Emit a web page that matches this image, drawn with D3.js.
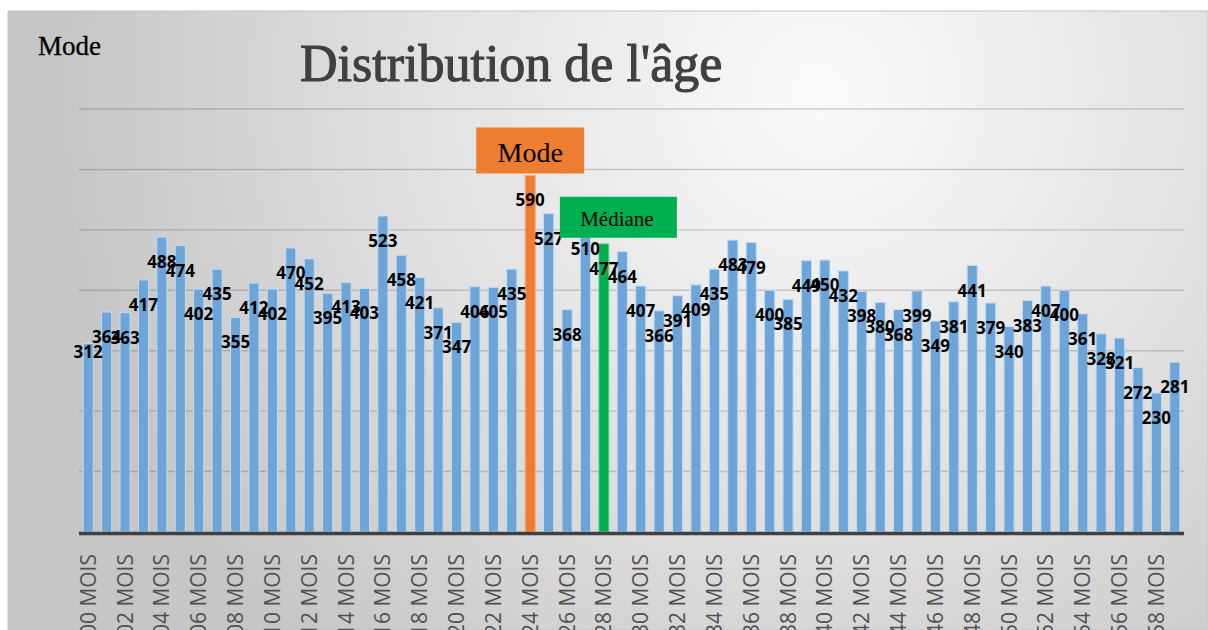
<!DOCTYPE html>
<html>
<head>
<meta charset="utf-8">
<script src="https://cdn.jsdelivr.net/npm/d3@7"></script>
<style>
  html, body { margin: 0; padding: 0; background: #fff; }
  svg { display: block; }
</style>
</head>
<body>
<svg id="chart"></svg>
<script>
// ages in months, 00..59
const months = d3.range(60).map(i => String(i).padStart(2, "0") + " MOIS")
const counts = [312, 364, 363, 417, 488, 474, 402, 435, 355, 412,
                402, 470, 452, 395, 413, 403, 523, 458, 421, 371,
                347, 406, 405, 435, 590, 527, 368, 510, 477, 464,
                407, 366, 391, 409, 435, 483, 479, 400, 385, 449,
                450, 432, 398, 380, 368, 399, 349, 381, 441, 379,
                340, 383, 407, 400, 361, 328, 321, 272, 230, 281]
const tickLabels = months.filter((m, i) => i % 2 == 0)
const gridValues = [100, 200, 300, 400, 500, 600, 700]
const modeIndex = 24
const medianIndex = 28

const W = 1208, H = 630
const margin = { top: 109, right: 24, bottom: 98, left: 79 }

const svg = d3.select("#chart")
  .attr("width", W)
  .attr("height", H)

// slide-like background
const defs = svg.append("defs")
const grad = defs.append("radialGradient")
  .attr("id", "bg")
  .attr("gradientUnits", "userSpaceOnUse")
  .attr("cx", 820).attr("cy", 90).attr("r", 760)
grad.append("stop").attr("offset", 0).attr("stop-color", "#fafafa")
grad.append("stop").attr("offset", 0.55).attr("stop-color", "#e0e0e0")
grad.append("stop").attr("offset", 1).attr("stop-color", "#c6c6c6")

svg.append("rect")
  .attr("x", 8).attr("y", 11)
  .attr("width", W - 8).attr("height", H - 11)
  .attr("fill", "url(#bg)")
  .attr("stroke", "#c4c4c4")

const x = d3.scaleBand()
  .domain(months)
  .range([margin.left, W - margin.right])
  .paddingInner(0.45)
  .paddingOuter(0.225)

const y = d3.scaleLinear()
  .domain([0, 700])
  .range([H - margin.bottom - 0, margin.top])

const baseY = y(0)

// gridlines
svg.append("g")
  .selectAll("line")
  .data(gridValues)
  .join("line")
    .attr("x1", margin.left)
    .attr("x2", W - margin.right)
    .attr("y1", d => y(d))
    .attr("y2", d => y(d))
    .attr("stroke", "rgba(0,0,0,0.17)")
    .attr("stroke-width", 1.4)

function barColor(i) {
  if (i == modeIndex) return "#ed7d31"
  if (i == medianIndex) return "#00b050"
  return "#6ea5d9"
}
function barEdge(i) {
  if (i == modeIndex) return "#f4b183"
  if (i == medianIndex) return "#7fd8a7"
  return "#c2dbf1"
}

svg.append("g")
  .selectAll("rect")
  .data(counts)
  .join("rect")
    .attr("x", (d, i) => x(months[i]))
    .attr("y", d => y(d))
    .attr("width", x.bandwidth())
    .attr("height", d => baseY - y(d))
    .attr("fill", (d, i) => barColor(i))
    .attr("stroke", (d, i) => barEdge(i))
    .attr("stroke-width", 1)

// data labels (first one sits higher in the original)
svg.append("g")
  .selectAll("text")
  .data(counts)
  .join("text")
    .attr("x", (d, i) => x(months[i]) + x.bandwidth() / 2)
    .attr("y", (d, i) => y(d) + (i == 0 ? 15 : 31))
    .attr("text-anchor", "middle")
    .attr("font-family", "'Open Sans', sans-serif")
    .attr("font-weight", 700)
    .attr("font-size", "17px")
    .attr("fill", "#000")
    .text(d => d)

// x axis
const xAxis = svg.append("g")
  .attr("transform", `translate(0,${baseY})`)
  .call(d3.axisBottom(x).tickValues(tickLabels).tickSize(0))
xAxis.select(".domain").remove()
xAxis.selectAll("text")
  .attr("transform", "rotate(-90)")
  .attr("x", -22)
  .attr("y", 0)
  .attr("dy", "0.36em")
  .attr("text-anchor", "end")
  .attr("font-family", "'Open Sans', sans-serif")
  .attr("font-size", "21px")
  .attr("fill", "#505050")

svg.append("line")
  .attr("x1", margin.left)
  .attr("x2", W - margin.right)
  .attr("y1", baseY + 1.5)
  .attr("y2", baseY + 1.5)
  .attr("stroke", "#404040")
  .attr("stroke-width", 3.5)

// annotations
const modeX = x(months[modeIndex]) + x.bandwidth() / 2
const modeBox = svg.append("g")
  .attr("transform", `translate(${modeX},${y(counts[modeIndex]) - 2})`)
modeBox.append("rect")
  .attr("x", -54).attr("y", -46)
  .attr("width", 108).attr("height", 46)
  .attr("fill", "#ed7d31")
modeBox.append("text")
  .attr("x", 0).attr("y", -11)
  .attr("text-anchor", "middle")
  .attr("font-family", "'Liberation Serif', serif")
  .attr("font-size", "28px")
  .attr("fill", "#000")
  .text("Mode")

const medX = x(months[medianIndex]) + x.bandwidth() / 2
const medBox = svg.append("g")
  .attr("transform", `translate(${medX},${y(counts[medianIndex]) - 6})`)
medBox.append("rect")
  .attr("x", -44).attr("y", -41)
  .attr("width", 117).attr("height", 41)
  .attr("fill", "#00b050")
medBox.append("text")
  .attr("x", 13).attr("y", -12)
  .attr("text-anchor", "middle")
  .attr("font-family", "'Liberation Serif', serif")
  .attr("font-size", "21px")
  .attr("fill", "#000")
  .text("Médiane")

// title + corner label
svg.append("text")
  .attr("x", 300).attr("y", 81)
  .attr("font-family", "'Liberation Serif', serif")
  .attr("font-size", "52px")
  .attr("fill", "#404040")
  .attr("stroke", "#404040")
  .attr("stroke-width", 1.1)
  .text("Distribution de l'âge")

svg.append("text")
  .attr("x", 38).attr("y", 55)
  .attr("font-family", "'Liberation Serif', serif")
  .attr("font-size", "27px")
  .attr("fill", "#000")
  .attr("stroke", "#000")
  .attr("stroke-width", 0.3)
  .text("Mode")
</script>
</body>
</html>
